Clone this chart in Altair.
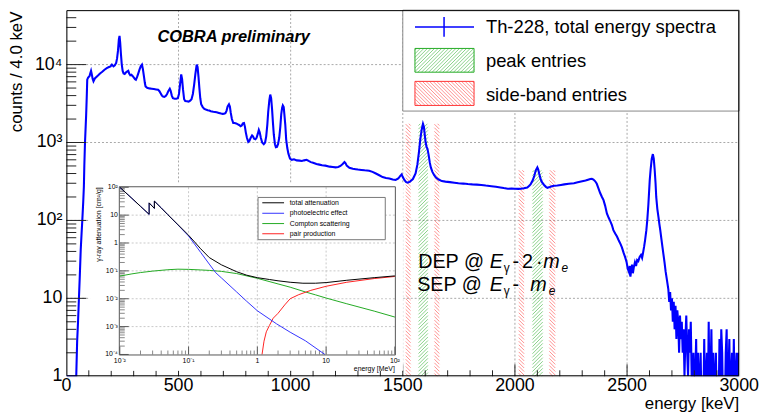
import altair as alt
import numpy as np
import pandas as pd

FONT = "Liberation Sans"
W, H = 680, 370
YMIN, YMAX = 1, 50000
LOGTOP = np.log10(YMAX)

# ---------------- main spectrum: energy [keV], counts / 4 keV
spectrum_points = [
    (0, 1), (44, 1), (48, 2.8), (52, 5), (56, 10), (60, 20), (64, 42), (68, 70), (71, 100),
    (75, 170), (78, 270), (80, 500), (83, 1000), (86, 1600), (88, 2200), (91, 4000), (93, 6400),
    (97, 6800), (103, 7100), (106, 7600), (110, 8300), (113, 7600), (117, 6600), (121, 6100),
    (128, 6700), (135, 7000), (142, 7300), (150, 7700), (160, 8100), (170, 8600), (180, 9000),
    (190, 9300), (197, 9500), (203, 10000), (210, 9500), (216, 9800), (222, 10500), (226, 12000),
    (230, 15000), (234, 21000), (237, 23400), (240, 19000), (243, 14000), (247, 10000), (251, 8300),
    (255, 7700), (260, 7600), (265, 7900), (270, 8100), (276, 8300), (280, 7700), (285, 7300),
    (290, 7400), (296, 7100), (301, 6800), (306, 6500), (310, 6400), (315, 6900), (320, 7600),
    (326, 8600), (332, 9600), (337, 10000), (341, 8800), (346, 7000), (350, 5800), (353, 5250),
    (360, 5050), (370, 4950), (380, 4900), (390, 4850), (400, 4800), (409, 4750), (415, 4550),
    (420, 4300), (426, 4000), (431, 3900), (437, 3850), (443, 3950), (449, 4200), (455, 4600),
    (461, 4900), (465, 4600), (470, 4000), (475, 3700), (483, 3650), (490, 3650), (497, 3700),
    (502, 4200), (507, 5600), (512, 7500), (516, 6500), (520, 4800), (525, 3600), (530, 3400),
    (537, 3380), (545, 3350), (552, 3450), (558, 3600), (564, 4200), (570, 5600), (575, 7500),
    (581, 10000), (585, 9300), (589, 7000), (593, 5000), (597, 3700), (601, 3100), (608, 2850),
    (615, 2700), (622, 2650), (630, 2600), (637, 2570), (644, 2520), (655, 2480), (670, 2450),
    (680, 2400), (690, 2350), (697, 2330), (703, 2340), (709, 2380), (714, 2550), (719, 2900),
    (725, 3100), (729, 2900), (733, 2400), (738, 2000), (744, 1780), (750, 1780), (757, 1760),
    (763, 1720), (770, 1680), (777, 1620), (782, 1650), (787, 1760), (792, 1780), (796, 1600),
    (800, 1350), (805, 1150), (811, 1020), (816, 1050), (822, 1150), (828, 1230), (832, 1200),
    (837, 1120), (843, 1100), (848, 1150), (853, 1280), (858, 1450), (862, 1350), (867, 1150),
    (873, 1000), (880, 950), (886, 1000), (891, 1200), (896, 1700), (900, 2500), (905, 3500),
    (909, 4120), (913, 3700), (917, 2700), (921, 1800), (925, 1250), (930, 950), (934, 870),
    (939, 880), (944, 960), (949, 1150), (954, 1600), (958, 2300), (962, 2800), (965, 2990),
    (969, 2850), (972, 2300), (976, 1700), (980, 1100), (985, 850), (990, 720), (997, 620),
    (1005, 600), (1015, 610), (1027, 590), (1040, 585), (1050, 580), (1060, 590), (1071, 600),
    (1080, 580), (1090, 560), (1100, 550), (1115, 530), (1128, 520), (1140, 510), (1155, 505),
    (1174, 490), (1188, 485), (1200, 480), (1212, 485), (1222, 500), (1232, 530), (1240, 560),
    (1245, 540), (1250, 505), (1262, 475), (1277, 460), (1290, 455), (1300, 450), (1315, 445),
    (1330, 440), (1350, 435), (1365, 420), (1380, 400), (1395, 380), (1410, 360), (1425, 350),
    (1440, 345), (1455, 335), (1468, 330), (1480, 345), (1488, 370), (1495, 390), (1500, 360),
    (1507, 330), (1515, 310), (1522, 305), (1532, 315), (1545, 340), (1557, 400), (1565, 520),
    (1572, 750), (1578, 1100), (1584, 1450), (1590, 1740), (1594, 1600), (1598, 1250),
    (1602, 1000), (1606, 880), (1610, 830), (1615, 700), (1620, 560), (1625, 480), (1632, 420),
    (1640, 380), (1648, 355), (1660, 335), (1674, 320), (1690, 315), (1710, 310), (1730, 305),
    (1748, 300), (1770, 297), (1790, 293), (1810, 290), (1830, 288), (1850, 285), (1870, 280),
    (1895, 275), (1915, 270), (1935, 265), (1950, 260), (1968, 255), (1985, 256), (2000, 255),
    (2015, 254), (2027, 255), (2040, 258), (2055, 265), (2065, 280), (2071, 295), (2080, 330),
    (2087, 380), (2093, 440), (2100, 480), (2104, 450), (2108, 400), (2113, 350), (2118, 320),
    (2122, 305), (2130, 285), (2138, 270), (2145, 262), (2155, 268), (2165, 275), (2175, 278),
    (2189, 280), (2205, 285), (2220, 290), (2240, 295), (2263, 300), (2280, 308), (2300, 318),
    (2315, 325), (2326, 333), (2336, 340), (2343, 343), (2350, 335), (2358, 318), (2365, 295),
    (2372, 260), (2380, 225), (2388, 200), (2395, 182), (2402, 155), (2410, 123), (2418, 108),
    (2425, 98), (2432, 88), (2439, 75), (2447, 68), (2455, 62), (2462, 56), (2469, 51),
    (2477, 45), (2485, 38), (2491, 34), (2498, 29), (2503, 24), (2508, 22), (2512, 26),
    (2515, 19), (2519, 24), (2522, 27), (2526, 21), (2530, 25), (2535, 29), (2540, 26),
    (2545, 31), (2550, 30), (2556, 34), (2562, 36), (2567, 33), (2571, 38), (2576, 46),
    (2580, 55), (2586, 75), (2590, 100), (2595, 160), (2601, 326), (2605, 450), (2610, 620),
    (2615, 710), (2619, 620), (2623, 450), (2627, 300), (2630, 200), (2635, 140), (2640, 110),
    (2644, 90), (2648, 75), (2653, 58), (2658, 45), (2662, 37), (2667, 29), (2672, 22),
    (2678, 17),
]
tail_E = list(range(2684, 3000, 4))
tail_c = [13, 9, 12, 7, 10, 5, 9, 4, 8, 3, 7, 5, 2, 6, 3, 5, 2,
          4, 1, 3, 6, 2, 1, 4, 2, 5, 1,
          0, 2, 0, 1, 3, 0, 2, 0, 1, 2, 0, 1, 0, 3, 0, 1, 2, 0, 5, 0,
          1, 4, 0, 2, 0, 1, 2, 0, 1, 0, 3, 0, 4, 2, 0, 1, 0, 2, 4, 0,
          1, 3, 0, 1, 2, 0, 3, 0, 1, 2, 0, 2]

# hatched energy windows [keV] and their heights [counts]
peak_bands = [(1570, 1612), (2078, 2124)]
peak_tops = [1740, 440]
side_bands = [(1513, 1535), (1641, 1663), (2017, 2041), (2153, 2180)]
side_tops = [1740, 1740, 440, 440]

x_labels = [0, 500, 1000, 1500, 2000, 2500, 3000]
y_labels = [1, 10, 100, 1000, 10000]
y_label_txt = ["1", "10", "10²", "10³", "10⁴"]
grid_E = [500, 1000, 1500, 2000, 2500]
grid_c = [10, 100, 1000, 10000]
xtick_major = [500, 1000, 1500, 2000, 2500]
xtick_minor = [v for v in range(100, 3000, 100) if v % 500]
ytick_major = [10, 100, 1000, 10000]
ytick_minor = [m * 10 ** k for k in range(0, 5) for m in range(2, 10) if m * 10 ** k < YMAX]

# ---------------- inset: gamma-ray attenuation [cm2/g] vs energy [MeV]
tot_E = [0.01, 0.015, 0.02, 0.0267, 0.0267, 0.0318, 0.0318, 0.04, 0.05, 0.07, 0.1, 0.15, 0.2,
         0.3, 0.5, 0.7, 1.0, 1.5, 2, 3, 4.6, 7, 10, 20, 50, 100]
tot_mu = [100, 40, 20.7, 10.7, 27.5, 17.5, 32, 18.2, 10.4, 4.56, 1.9, 0.62, 0.30, 0.165, 0.093,
          0.07, 0.057, 0.049, 0.044, 0.039, 0.036, 0.036, 0.038, 0.046, 0.057, 0.066]
pe_E = [0.01, 0.015, 0.02, 0.0267, 0.0267, 0.0318, 0.0318, 0.04, 0.05, 0.07, 0.1, 0.15, 0.2,
        0.248, 0.3, 0.5, 0.7, 1.0, 1.9, 3, 5, 9.6]
pe_mu = [100, 40, 20.6, 10.6, 27.4, 17.4, 31.9, 18.1, 10.3, 4.45, 1.78, 0.46, 0.175,
         0.086, 0.056, 0.0175, 0.0081, 0.0037, 0.00126, 0.00063, 0.00031, 0.0001]
cs_E = [0.01, 0.015, 0.02, 0.03, 0.05, 0.07, 0.1, 0.15, 0.2, 0.3, 0.5, 1, 2, 3, 5, 7, 10, 20, 50, 100]
cs_mu = [0.065, 0.078, 0.087, 0.098, 0.11, 0.115, 0.113, 0.108, 0.104, 0.096, 0.08, 0.054,
         0.034, 0.026, 0.0175, 0.0138, 0.0106, 0.0066, 0.0036, 0.0022]
pp_E = [1.17, 1.25, 1.35, 1.5, 1.7, 2.0, 2.5, 3, 4, 6, 10, 20, 50, 100]
pp_mu = [1e-4, 3e-4, 6.5e-4, 1.1e-3, 2.0e-3, 3.0e-3, 6e-3, 1.0e-2, 1.4e-2, 2.0e-2, 2.8e-2,
         3.9e-2, 5.3e-2, 6.3e-2]
inset_series = ["total attenuation", "photoelectric effect", "Compton scattering", "pair production"]
inset_colors = ["#000000", "#3333ff", "#22aa22", "#ff2222"]

ins_x_label_vals = [0.01, 0.1, 1, 10, 100]
ins_x_label_txt = ["10⁻²", "10⁻¹", "1", "10", "10²"]
ins_y_label_vals = [1e-4, 1e-3, 1e-2, 0.1, 1, 10, 100]
ins_y_label_txt = ["10⁻⁴", "10⁻³", "10⁻²", "10⁻¹", "1", "10", "10²"]
ins_grid_x = [0.1, 1, 10]
ins_grid_y = [1e-3, 1e-2, 0.1, 1, 10]
ins_xtick_minor = [m * 10.0 ** k for k in range(-2, 2) for m in range(2, 10)]
ins_ytick_minor = [m * 10.0 ** k for k in range(-4, 2) for m in range(2, 10)]

# inset frame in plot pixels
IX0, IX1, IY0, IY1 = 54, 332, 179, 348

# ---------------- scales
xs = alt.Scale(domain=[0, 3000], nice=False, zero=False)
ys = alt.Scale(type="log", domain=[YMIN, YMAX], nice=False)
xi = alt.Scale(type="log", domain=[0.01, 100], range=[IX0, IX1], nice=False)
yi = alt.Scale(type="log", domain=[1e-4, 100], range=[IY1, IY0], nice=False)


def px2E(px):
    return px * 3000.0 / W


def E2px(E):
    return E * W / 3000.0


def py2c(py):
    return 10 ** ((H - py) / H * LOGTOP)


def c2py(c):
    return H - H * np.log10(c) / LOGTOP


def hatch_segments(x0, x1, y0, y1, step, kind):
    segs = []
    if kind == "/":
        for k in np.arange(x0 + y0 + step / 2, x1 + y1, step):
            xa, xb = max(x0, k - y1), min(x1, k - y0)
            if xb > xa:
                segs.append((xa, k - xa, xb, k - xb))
    else:
        for k in np.arange(y0 - x1 + step / 2, y1 - x0, step):
            xa, xb = max(x0, y0 - k), min(x1, y1 - k)
            if xb > xa:
                segs.append((xa, xa + k, xb, xb + k))
    return segs


def seg_df(rects, kind, step=3.6):
    rows = []
    for (x0, x1, y0, y1) in rects:
        for (xa, ya, xb, yb) in hatch_segments(x0, x1, y0, y1, step, kind):
            rows.append({"x": px2E(xa), "y": py2c(ya), "x2": px2E(xb), "y2": py2c(yb)})
    return pd.DataFrame(rows)


ONE = pd.DataFrame({"k": [0]})


def text(s, x, y, size, align="left", baseline="alphabetic", color="black", **kw):
    return alt.Chart(pd.DataFrame({"t": [s]})).mark_text(
        align=align, baseline=baseline, font=FONT, fontSize=size, color=color, **kw
    ).encode(x=alt.value(x), y=alt.value(y), text="t:N")


def box(x0, x1, y0, y1, stroke, fill="white", fill_opacity=1.0, sw=1):
    return alt.Chart(ONE).mark_rect(
        fill=fill, fillOpacity=fill_opacity, stroke=stroke, strokeWidth=sw
    ).encode(x=alt.value(x0), x2=alt.value(x1), y=alt.value(y0), y2=alt.value(y1))


def hline(x0, x1, y, color, sw=1):
    return alt.Chart(ONE).mark_rule(color=color, strokeWidth=sw).encode(
        x=alt.value(x0), x2=alt.value(x1), y=alt.value(y))


def vline(x, y0, y1, color, sw=1):
    return alt.Chart(ONE).mark_rule(color=color, strokeWidth=sw).encode(
        x=alt.value(x), y=alt.value(y0), y2=alt.value(y1))


# ---------------- main data frames
spec_df = pd.DataFrame(spectrum_points, columns=["E", "c"])
spec_df = pd.concat([spec_df, pd.DataFrame({"E": tail_E, "c": tail_c})], ignore_index=True)
spec_df["c"] = spec_df["c"].where(spec_df["c"] > 0, 0.4)

GREEN, RED = "#22aa22", "#ff3333"
LEG_G = (352.3, 412, 38.7, 62.7)
LEG_R = (352.3, 412, 72, 96.3)
green_rects = [(E2px(a), E2px(b), c2py(t), H) for (a, b), t in zip(peak_bands, peak_tops)]
red_rects = [(E2px(a), E2px(b), c2py(t), H) for (a, b), t in zip(side_bands, side_tops)]

GRID = "#a8a8a8"
main_layers = []
main_layers.append(alt.Chart(pd.DataFrame({"E": grid_E})).mark_rule(
    color=GRID, strokeDash=[2, 2], strokeWidth=1).encode(
    x=alt.X("E:Q", scale=xs, axis=None), y=alt.value(0), y2=alt.value(H)))
main_layers.append(alt.Chart(pd.DataFrame({"c": grid_c})).mark_rule(
    color=GRID, strokeDash=[2, 2], strokeWidth=1).encode(
    y=alt.Y("c:Q", scale=ys, axis=None), x=alt.value(0), x2=alt.value(W)))


def hatch_layer(rects, kind, col):
    return alt.Chart(seg_df(rects, kind)).mark_rule(color=col, strokeWidth=0.9, opacity=0.6).encode(
        x=alt.X("x:Q", scale=xs, axis=None), x2="x2:Q",
        y=alt.Y("y:Q", scale=ys, axis=None), y2="y2:Q")


main_layers.append(hatch_layer(green_rects, "/", GREEN))
main_layers.append(hatch_layer(red_rects, "\\", RED))

main_layers.append(alt.Chart(spec_df).mark_line(color="#0000ff", strokeWidth=2.1, clip=True).encode(
    x=alt.X("E:Q", scale=xs, axis=None),
    y=alt.Y("c:Q", scale=ys, axis=None),
))
# inward ticks
TICK = "#222222"
main_layers.append(alt.Chart(pd.DataFrame({"c": ytick_major})).mark_rule(color=TICK).encode(
    y=alt.Y("c:Q", scale=ys, axis=None), x=alt.value(0), x2=alt.value(20)))
main_layers.append(alt.Chart(pd.DataFrame({"c": ytick_minor})).mark_rule(color=TICK).encode(
    y=alt.Y("c:Q", scale=ys, axis=None), x=alt.value(0), x2=alt.value(10)))
main_layers.append(alt.Chart(pd.DataFrame({"E": xtick_major})).mark_rule(color=TICK).encode(
    x=alt.X("E:Q", scale=xs, axis=None), y=alt.value(H), y2=alt.value(H - 12)))
main_layers.append(alt.Chart(pd.DataFrame({"E": xtick_minor})).mark_rule(color=TICK).encode(
    x=alt.X("E:Q", scale=xs, axis=None), y=alt.value(H), y2=alt.value(H - 6)))

# axis labels and titles
main_layers.append(alt.Chart(pd.DataFrame({"E": x_labels, "t": [str(v) for v in x_labels]})).mark_text(
    font=FONT, fontSize=18, align="center", baseline="top", color="black").encode(
    x=alt.X("E:Q", scale=xs, axis=None), y=alt.value(H + 1), text="t:N"))
main_layers.append(alt.Chart(pd.DataFrame({"c": y_labels, "t": y_label_txt})).mark_text(
    font=FONT, fontSize=18, align="right", baseline="middle", color="black").encode(
    y=alt.Y("c:Q", scale=ys, axis=None), x=alt.value(-4), text="t:N"))
main_layers.append(text("energy [keV]", W, H + 33, 17, align="right"))
main_layers.append(text("counts / 4.0 keV", -49.5, 1.5, 17, align="right", baseline="middle", angle=270))

# annotation texts
main_layers.append(text("COBRA preliminary", 92, 32, 16.6, fontWeight="bold", fontStyle="italic"))
for (s, x, y, size, style) in [
    ("DEP @", 355.5, 261, 20, "normal"), ("E", 428.0, 261, 20, "italic"),
    ("γ", 442, 265, 12, "normal"), ("-", 451, 261, 20, "normal"), ("2", 460.5, 261, 20, "normal"),
    ("·", 474.5, 261, 20, "normal"),
    ("m", 482.0, 261, 20, "italic"), ("e", 500.5, 265, 12, "italic"),
    ("SEP @", 354.5, 284, 20, "normal"), ("E", 428.0, 284, 20, "italic"),
    ("γ", 442, 288, 12, "normal"), ("-", 451, 284, 20, "normal"),
    ("m", 468.7, 284, 20, "italic"), ("e", 487.5, 288, 12, "italic"),
]:
    main_layers.append(text(s, x, y, size, fontStyle=style))

# main legend
main_layers.append(box(340, W, 0, 102, "#888888"))
main_layers.append(hatch_layer([LEG_G], "/", GREEN))
main_layers.append(hatch_layer([LEG_R], "\\", RED))
main_layers.append(box(*LEG_G, stroke=GREEN, fill_opacity=0.0))
main_layers.append(box(*LEG_R, stroke=RED, fill_opacity=0.0))
main_layers.append(hline(352.3, 412, 17, "#0000ff", 1.5))
main_layers.append(vline(381.7, 7, 27, "#0000ff", 1.5))
main_layers.append(text("Th-228, total energy spectra", 424, 17.5, 18.6, baseline="middle"))
main_layers.append(text("peak entries", 424, 51.5, 18.6, baseline="middle"))
main_layers.append(text("side-band entries", 424, 85.5, 18.6, baseline="middle"))
# frame
main_layers.append(box(0.5, W - 0.5, 0.5, H - 0.5, "#000000", fill_opacity=0.0))

main = alt.layer(*main_layers)

# ---------------- inset layers
IGRID = "#c8c8c8"
ITICK = "#555555"
ins = []
ins.append(box(24, 340, 175, 364, "white"))
ins.append(alt.Chart(pd.DataFrame({"e": ins_grid_x})).mark_rule(
    color=IGRID, strokeDash=[2, 2]).encode(
    x=alt.X("e:Q", scale=xi, axis=None), y=alt.value(IY0), y2=alt.value(IY1)))
ins.append(alt.Chart(pd.DataFrame({"m": ins_grid_y})).mark_rule(
    color=IGRID, strokeDash=[2, 2]).encode(
    y=alt.Y("m:Q", scale=yi, axis=None), x=alt.value(IX0), x2=alt.value(IX1)))
ins.append(alt.Chart(pd.DataFrame({"m": ins_y_label_vals})).mark_rule(color=ITICK).encode(
    y=alt.Y("m:Q", scale=yi, axis=None), x=alt.value(IX0), x2=alt.value(IX0 + 9)))
ins.append(alt.Chart(pd.DataFrame({"m": ins_ytick_minor})).mark_rule(color="#888888").encode(
    y=alt.Y("m:Q", scale=yi, axis=None), x=alt.value(IX0), x2=alt.value(IX0 + 5)))
ins.append(alt.Chart(pd.DataFrame({"e": ins_x_label_vals})).mark_rule(color=ITICK).encode(
    x=alt.X("e:Q", scale=xi, axis=None), y=alt.value(IY1), y2=alt.value(IY1 - 8)))
ins.append(alt.Chart(pd.DataFrame({"e": ins_xtick_minor})).mark_rule(color="#888888").encode(
    x=alt.X("e:Q", scale=xi, axis=None), y=alt.value(IY1), y2=alt.value(IY1 - 4)))
for E_, mu_, col in [(cs_E, cs_mu, inset_colors[2]), (pp_E, pp_mu, inset_colors[3]),
                     (pe_E, pe_mu, inset_colors[1]), (tot_E, tot_mu, inset_colors[0])]:
    d = pd.DataFrame({"e": E_, "m": mu_, "o": list(range(len(E_)))})
    ins.append(alt.Chart(d).mark_line(color=col, strokeWidth=1).encode(
        x=alt.X("e:Q", scale=xi, axis=None), y=alt.Y("m:Q", scale=yi, axis=None),
        order="o:Q"))
ins.append(box(IX0 - 0.5, IX1 + 0.5, IY0 - 0.5, IY1 + 0.5, "#555555", fill_opacity=0.0))
ins.append(alt.Chart(pd.DataFrame({"e": ins_x_label_vals, "t": ins_x_label_txt})).mark_text(
    font=FONT, fontSize=7, align="center", baseline="middle", color="black").encode(
    x=alt.X("e:Q", scale=xi, axis=None), y=alt.value(355), text="t:N"))
ins.append(alt.Chart(pd.DataFrame({"m": ins_y_label_vals, "t": ins_y_label_txt})).mark_text(
    font=FONT, fontSize=7, align="right", baseline="middle", color="black").encode(
    y=alt.Y("m:Q", scale=yi, axis=None), x=alt.value(IX0 - 2), text="t:N"))
ins.append(text("γ-ray attenuation [cm²/g]", 33, IY0, 7, align="right", baseline="middle", angle=270))
ins.append(text("energy [MeV]", IX1, 365, 7, align="right"))
# inset legend
ins.append(box(193.7, 322.3, 189.3, 232, "#777777"))
for name, col, yy in zip(inset_series, inset_colors, [194.7, 205.3, 215.7, 226]):
    ins.append(hline(198, 220, yy, col, 1))
    ins.append(text(name, 225.7, yy, 7, baseline="middle"))

inset = alt.layer(*ins)

chart = alt.layer(main, inset).resolve_scale(x="independent", y="independent").properties(
    width=W, height=H,
    autosize=alt.AutoSizeParams(type="none"),
    padding={"left": 59, "top": 0, "right": 20, "bottom": 37},
).configure_view(strokeWidth=0).configure(background="white")

chart.save("out.html", embed_options={"renderer": "svg", "actions": False})
